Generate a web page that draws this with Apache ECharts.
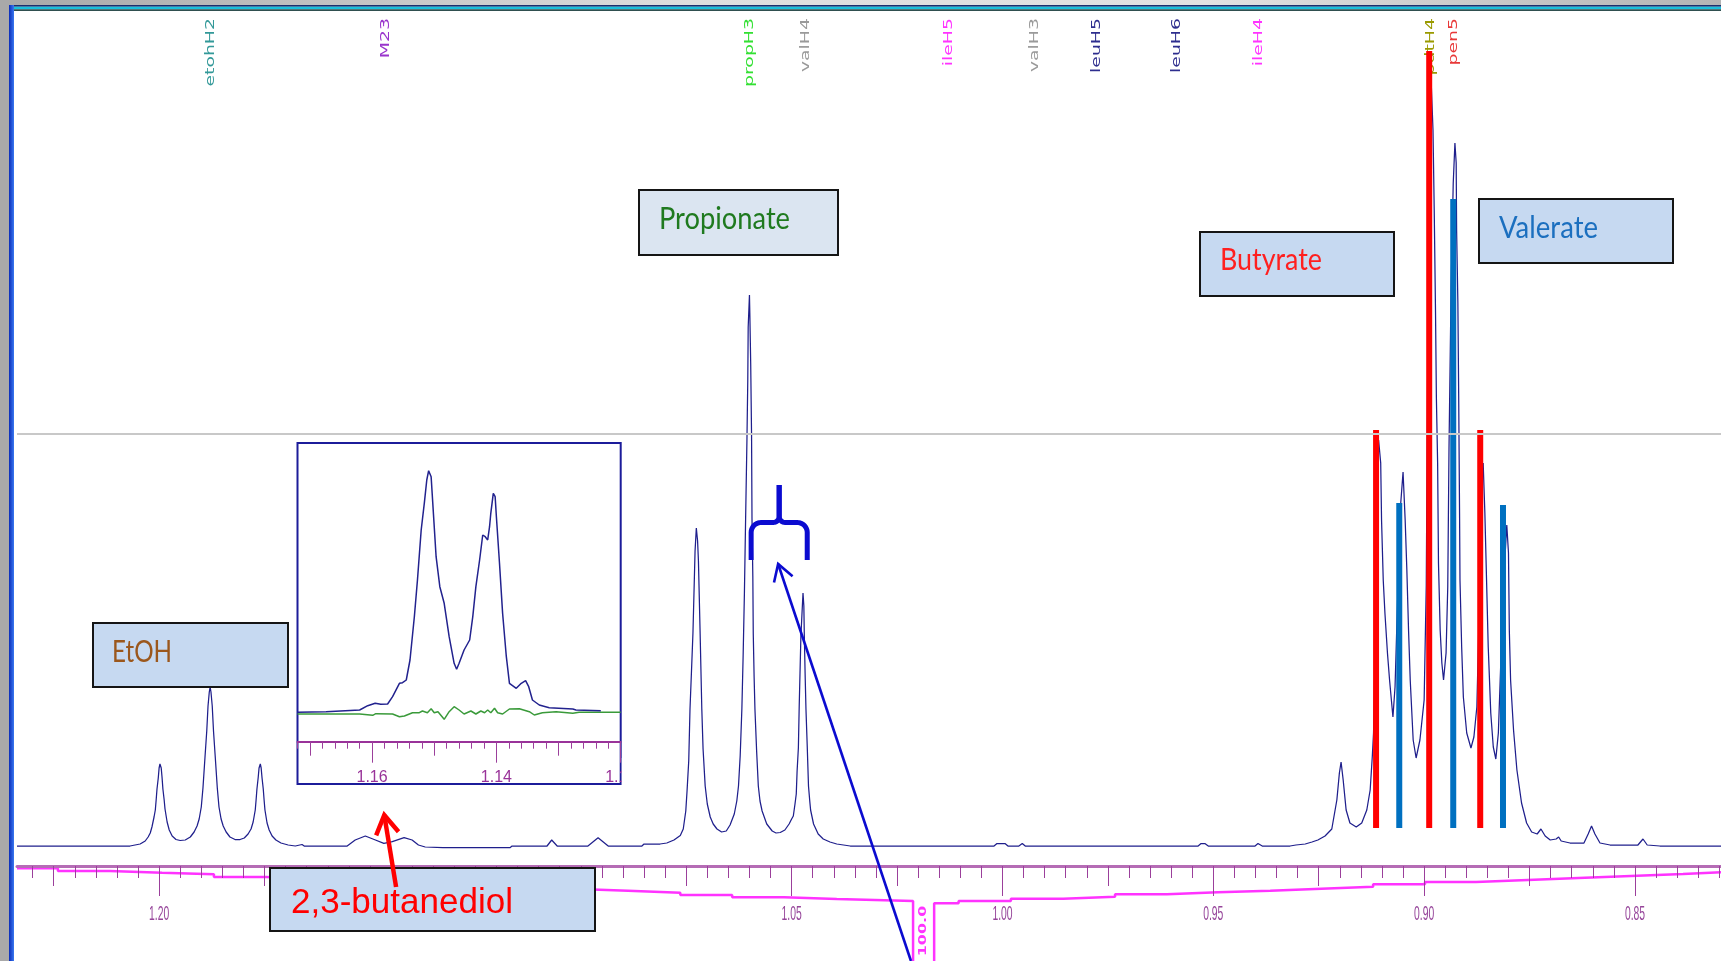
<!DOCTYPE html>
<html>
<head>
<meta charset="utf-8">
<title>1H NMR – short-chain fatty acids region</title>
<script src="https://cdn.jsdelivr.net/npm/echarts@6/dist/echarts.min.js"></script>
<style>
  html, body { margin: 0; padding: 0; background: #ffffff; }
  #chart { width: 1721px; height: 961px; }
</style>
</head>
<body>
<div id="chart"></div>
<script>
// ---------- data (ppm, intensity) ----------
const PPM_MIN = 0.8296;
const PPM_MAX = 1.2337;

// 1H spectrum trace, [chemical shift (ppm), intensity]
const SPECTRUM = [
  [1.2337,0],[1.2069,0],[1.2057,1],[1.2045,2],[1.2033,5],[1.2026,9],[1.2021,13],[1.2017,19],[1.2012,29],[1.2009,36],
  [1.2007,46],[1.2005,57],[1.2002,68],[1.2000,78],[1.1998,82],[1.1995,78],[1.1993,68.5],[1.1991,57],[1.1988,46],[1.1986,37],
  [1.1981,24],[1.1976,16],[1.1969,10],[1.1960,6.5],[1.1950,5.5],[1.1938,6],[1.1926,9],[1.1917,14],[1.1910,20],[1.1905,27],
  [1.1900,39],[1.1896,58],[1.1891,90],[1.1887,115],[1.1884,140],[1.1881,154],[1.1879,159],[1.1877,154],[1.1874,140],[1.1871,115],
  [1.1867,90],[1.1862,58],[1.1858,39],[1.1853,27],[1.1848,20],[1.1841,14],[1.1832,9],[1.1820,6.5],[1.1808,6.5],[1.1798,8],
  [1.1789,12],[1.1782,17],[1.1777,24],[1.1772,36],[1.1770,46],[1.1768,57],[1.1765,68.5],[1.1763,78],[1.1760,82],[1.1758,78],
  [1.1756,68.5],[1.1753,57],[1.1751,46],[1.1749,36],[1.1744,23],[1.1739,16],[1.1732,10],[1.1723,6],[1.1711,3],[1.1694,1],
  [1.1677,0],[1.1661,1.5],[1.1656,0],[1.1554,0],[1.1535,6],[1.1511,10],[1.1487,6],[1.1467,2.7],[1.1447,4.3],[1.1419,8.3],
  [1.1400,6],[1.1385,1],[1.1369,-1],[1.1327,-1.7],[1.1168,-1.7],[1.1163,0],[1.1080,0],[1.1069,6],[1.1056,0],[1.0983,0],
  [1.0959,8.3],[1.0935,0],[1.0855,0],[1.0850,2],[1.0812,2],[1.0796,3],[1.0779,6],[1.0764,10.5],[1.0757,17],[1.0751,35],
  [1.0748,55],[1.0744,85],[1.0741,137],[1.0737,180],[1.0734,213],[1.0731,262],[1.0729,295],[1.0726,318],[1.0723,305],[1.0721,285],
  [1.0717,213],[1.0713,137],[1.0710,97],[1.0705,60],[1.0700,42],[1.0693,29],[1.0686,22],[1.0677,17],[1.0666,14],[1.0655,15],
  [1.0646,21],[1.0636,32],[1.0630,45],[1.0626,60],[1.0622,90],[1.0618,137],[1.0615,190],[1.0612,252],[1.0609,330],[1.0606,405],
  [1.0604,465],[1.0603,519],[1.0600,551],[1.0599,530],[1.0597,481],[1.0595,410],[1.0594,328],[1.0592,270],[1.0591,213],[1.0589,170],
  [1.0587,137],[1.0583,95],[1.0579,60],[1.0575,45],[1.0570,35],[1.0559,22],[1.0546,15],[1.0537,13],[1.0527,13.5],[1.0516,16],
  [1.0506,22],[1.0500,27],[1.0496,30],[1.0492,42],[1.0489,52],[1.0487,75],[1.0484,98],[1.0482,140],[1.0480,175],[1.0478,210],
  [1.0475,236],[1.0473,253],[1.0471,240],[1.0470,213],[1.0468,172],[1.0466,137],[1.0463,100],[1.0460,60],[1.0457,45],[1.0455,36],
  [1.0448,22],[1.0437,12],[1.0425,7],[1.0409,4],[1.0393,2],[1.0369,0.5],[1.0361,0],[1.0131,0],[1.0129,1.5],[1.0124,0],
  [1.0020,0],[1.0013,2.5],[0.9994,2.5],[0.9987,0],[0.9961,0],[0.9953,2.5],[0.9946,0],[0.9880,0],[0.9878,1.5],[0.9873,0],
  [0.9652,0],[0.9650,1.5],[0.9645,0],[0.9536,0],[0.9529,2.5],[0.9520,2.5],[0.9512,0],[0.9401,0],[0.9394,2.5],[0.9384,0],
  [0.9318,0],[0.9304,1],[0.9282,2],[0.9266,4],[0.9252,6],[0.9235,10],[0.9219,17],[0.9207,46],[0.9201,73],[0.9197,84],
  [0.9192,66],[0.9185,36],[0.9176,23],[0.9161,19],[0.9148,23],[0.9136,36],[0.9128,56],[0.9123,89],[0.9120,113],[0.9116,200],
  [0.9113,330],[0.9108,406],[0.9103,383],[0.9101,326],[0.9097,266],[0.9093,233],[0.9087,193],[0.9082,166],[0.9074,129],[0.9069,159],
  [0.9062,260],[0.9056,340],[0.9050,374],[0.9045,326],[0.9041,276],[0.9037,216],[0.9033,166],[0.9026,106],[0.9019,88],[0.9010,106],
  [0.9000,146],[0.8995,260],[0.8991,520],[0.8987,740],[0.8984,772],[0.8979,716],[0.8976,633],[0.8973,533],[0.8971,449],[0.8968,383],
  [0.8966,283],[0.8962,216],[0.8958,183],[0.8954,166],[0.8948,193],[0.8944,259],[0.8941,399],[0.8936,560],[0.8931,663],[0.8927,703],
  [0.8924,683],[0.8923,616],[0.8920,543],[0.8918,446],[0.8916,333],[0.8915,266],[0.8911,199],[0.8907,149],[0.8899,113],[0.8889,98],
  [0.8882,109],[0.8875,139],[0.8870,226],[0.8865,346],[0.8860,383],[0.8856,333],[0.8852,266],[0.8848,199],[0.8842,133],[0.8836,99],
  [0.8830,87],[0.8824,113],[0.8818,186],[0.8810,276],[0.8804,321],[0.8800,293],[0.8798,216],[0.8795,166],[0.8788,116],[0.8780,76],
  [0.8769,43],[0.8757,23],[0.8745,14],[0.8732,12],[0.8723,17],[0.8713,10],[0.8701,6],[0.8687,7],[0.8681,9],[0.8675,5],
  [0.8654,3],[0.8621,3],[0.8611,12],[0.8603,20],[0.8595,12],[0.8583,3],[0.8559,1],[0.8493,1],[0.8481,7],[0.8471,1],
  [0.8441,0],[0.8296,0]
];

// Expanded 2,3-butanediol doublet and fit residual
const INSET_PPM_MIN = 1.1200;
const INSET_PPM_MAX = 1.1720;
const INSET_SPECTRUM = [
  [1.1720,0],[1.1674,0.6],[1.1620,2.3],[1.1607,6.6],[1.1595,9],[1.1586,8],[1.1575,8.3],[1.1567,15.6],[1.1556,29],[1.1551,29.6],
  [1.1545,32.3],[1.1539,52.3],[1.1532,95.6],[1.1527,132.3],[1.1521,182.3],[1.1516,209],[1.1512,232.3],[1.1509,241.6],[1.1505,235.6],[1.1501,195.6],
  [1.1497,155.6],[1.1491,125.6],[1.1484,109],[1.1476,75.6],[1.1468,49],[1.1464,43],[1.1460,49],[1.1452,62.3],[1.1443,72.3],[1.1438,95.6],
  [1.1433,125.6],[1.1427,152.3],[1.1422,177.3],[1.1418,175.6],[1.1414,172.3],[1.1411,185.6],[1.1409,199],[1.1405,219],[1.1402,215.6],[1.1400,195.6],
  [1.1395,149],[1.1390,99],[1.1384,55.6],[1.1379,29],[1.1368,24],[1.1360,29],[1.1353,31.6],[1.1348,25.6],[1.1342,12.3],[1.1331,7.3],
  [1.1315,4.6],[1.1277,3.3],[1.1272,2.3],[1.1232,1.6]
];
const INSET_RESIDUAL = [
  [1.1720,-1.7],[1.1620,-1.7],[1.1618,-3],[1.1599,-3],[1.1594,-1.4],[1.1567,-1.7],[1.1556,-4.4],[1.1548,-3.7],[1.1535,-0.4],[1.1524,-0.4],
  [1.1519,1.3],[1.1511,-0.4],[1.1505,3.6],[1.1500,-0.4],[1.1494,0.6],[1.1484,-7],[1.1476,0.6],[1.1468,5.6],[1.1460,2.3],[1.1452,-1.7],
  [1.1441,1.3],[1.1433,-1.7],[1.1425,1.3],[1.1419,-0.4],[1.1414,2.3],[1.1409,-0.4],[1.1403,4],[1.1398,-0.4],[1.1390,-1.7],[1.1379,3.3],
  [1.1363,3.6],[1.1347,0.6],[1.1339,-2.7],[1.1326,-0.4],[1.1304,0.6],[1.1277,-1],[1.1267,0],[1.1200,0]
];

// Integral trace, [ppm, height]
const INTEGRAL = [
  [1.2337,92.7],[1.2240,90],[1.2117,88.3],[1.1993,86.7],[1.1870,84],[1.1746,82],[1.1623,80],[1.1500,78],[1.1376,76],[1.1253,74],
  [1.1130,72],[1.1006,70.3],[1.0888,68.3],[1.0764,66],[1.0641,63.7],[1.0518,62],[1.0393,60],[1.0212,-5],[1.0162,57.7],[1.0104,60],
  [0.9980,62.3],[0.9856,64.3],[0.9733,66.7],[0.9610,68.7],[0.9489,70.3],[0.9365,72.3],[0.9244,74.3],[0.9121,76.7],[0.8998,79],[0.8877,81],
  [0.8754,83],[0.8634,85],[0.8510,87],[0.8386,88.7],[0.8296,88.7]
];
const INTEGRAL_LABEL = '100.0';
const INTEGRAL_LABEL_AT = [1.0188, 30];

// Reference multiplet sticks
const STICK_BASE = 18;
const BUTYRATE_PPM = [0.9114, 0.8988, 0.8867];
const BUTYRATE_HEIGHT = [416, 795, 416];
const VALERATE_PPM = [0.9059, 0.8931, 0.8813];
const VALERATE_HEIGHT = [343, 647, 341];

const THRESHOLD = 412;

// Assignment labels along the top
const PEAK_NAMES = ['etohH2', 'M23', 'propH3', 'valH4', 'ileH5', 'valH3', 'leuH5', 'leuH6', 'ileH4', 'pdtH4', 'pen5'];
const PEAK_PPM   = [1.1877, 1.1463, 1.0599, 1.0466, 1.0127, 0.9922, 0.9776, 0.9587, 0.9391, 0.8985, 0.8930];

// Axis tick labels
const MAIN_TICK_LABELS = [1.20, 1.15, 1.10, 1.05, 1.00, 0.95, 0.90, 0.85];
const INSET_TICK_LABELS = [1.16, 1.14, 1.12];

// Annotation anchors in data coordinates
const BRACE = { from: 1.0596, to: 1.0463, foot: 286, arm: 323.5, tip: 361 };
const BLUE_ARROW = { tip: [1.0532, 282], tail: [1.0217, -115] };
const RED_ARROW = { tip: [1.1466, 31], tail: [1.1438, -41] };

// ---------- styles ----------
const PEAK_COLORS = ['#339999', '#9933cc', '#33e033', '#9a9a9a', '#ff33ff', '#9a9a9a', '#2e2e8e', '#2e2e8e', '#ff33ff', '#9a9a00', '#e83838'];
const SPEC_COLOR = '#1f1f8c';
const AXIS_PURPLE = '#9b3f9b';

// ---------- chart ----------
const chart = echarts.init(document.getElementById('chart'), null, { renderer: 'canvas' });

function ticks(lo, hi, step) {
  const out = [];
  const a = Math.ceil(lo / step - 1e-6), b = Math.floor(hi / step + 1e-6);
  for (let n = a; n <= b; n++) out.push(Number((n * step).toFixed(4)));
  return out;
}

function tickAxis(gridIndex, min, max, values, length, line) {
  return {
    type: 'value', gridIndex, min, max, inverse: true, position: 'bottom', z: 3,
    axisLine: line ? { show: true, onZero: false, lineStyle: line } : { show: false, onZero: false },
    axisTick: { show: true, customValues: values, length, lineStyle: { color: AXIS_PURPLE, width: 1 } },
    axisLabel: { show: false },
    splitLine: { show: false }
  };
}

function stickSeries(name, ppms, heights, color) {
  return {
    type: 'custom', name, xAxisIndex: 0, yAxisIndex: 0, z: 4, silent: true,
    data: ppms.map((p, i) => [p, STICK_BASE, heights[i]]),
    encode: { x: 0, y: [1, 2] },
    renderItem(params, api) {
      const a = api.coord([api.value(0), api.value(1)]);
      const b = api.coord([api.value(0), api.value(2)]);
      return { type: 'rect', shape: { x: a[0] - 3, y: b[1], width: 6, height: a[1] - b[1] }, style: { fill: color } };
    }
  };
}

const option = {
  animation: false,
  backgroundColor: '#ffffff',
  grid: [
    { left: 17, right: 0, top: 0, height: 866, outerBoundsMode: 'none' },
    { left: 297.5, top: 443, width: 323.2, height: 298.7, outerBoundsMode: 'none' },
    { left: 17, right: 0, top: 866, height: 95, outerBoundsMode: 'none' }
  ],
  xAxis: [
    tickAxis(0, PPM_MIN, PPM_MAX, ticks(PPM_MIN, PPM_MAX, 0.005), 12, { color: '#b56cb5', width: 3 }),
    tickAxis(0, PPM_MIN, PPM_MAX, ticks(PPM_MIN, PPM_MAX, 0.025), 20, null),
    tickAxis(0, PPM_MIN, PPM_MAX, ticks(PPM_MIN, PPM_MAX, 0.05), 30, null),
    tickAxis(1, INSET_PPM_MIN, INSET_PPM_MAX, ticks(INSET_PPM_MIN, INSET_PPM_MAX, 0.002), 7, { color: '#993399', width: 2 }),
    tickAxis(1, INSET_PPM_MIN, INSET_PPM_MAX, ticks(INSET_PPM_MIN, INSET_PPM_MAX, 0.01), 14, null),
    tickAxis(1, INSET_PPM_MIN, INSET_PPM_MAX, ticks(INSET_PPM_MIN, INSET_PPM_MAX, 0.02), 21, null),
    { type: 'value', gridIndex: 2, min: PPM_MIN, max: PPM_MAX, inverse: true, show: false }
  ],
  yAxis: [
    { type: 'value', gridIndex: 0, min: -20, max: 846, show: false },
    { type: 'value', gridIndex: 1, min: -29.4, max: 269.3, show: false },
    { type: 'value', gridIndex: 2, min: 0, max: 95, show: false }
  ],
  series: [
    {
      type: 'line', name: 'spectrum', xAxisIndex: 0, yAxisIndex: 0, data: SPECTRUM,
      symbol: 'none', showSymbol: false, silent: true, z: 2,
      lineStyle: { color: SPEC_COLOR, width: 1.25 },
      markLine: {
        silent: true, symbol: 'none', label: { show: false },
        lineStyle: { color: '#c8c8c8', width: 2, type: 'solid' },
        data: [{ yAxis: THRESHOLD }]
      }
    },
    stickSeries('butyrate', BUTYRATE_PPM, BUTYRATE_HEIGHT, '#ff0000'),
    stickSeries('valerate', VALERATE_PPM, VALERATE_HEIGHT, '#0070c0'),
    {
      type: 'line', name: 'residual', xAxisIndex: 3, yAxisIndex: 1, data: INSET_RESIDUAL,
      symbol: 'none', showSymbol: false, silent: true, z: 2,
      lineStyle: { color: '#3a9a3a', width: 1.5 }
    },
    {
      type: 'line', name: 'butanediol', xAxisIndex: 3, yAxisIndex: 1, data: INSET_SPECTRUM,
      symbol: 'none', showSymbol: false, silent: true, z: 3,
      lineStyle: { color: '#22228e', width: 1.5 }
    },
    {
      type: 'line', name: 'integral', xAxisIndex: 6, yAxisIndex: 2, data: INTEGRAL, step: 'end',
      symbol: 'none', showSymbol: false, silent: true, z: 2,
      lineStyle: { color: '#ff33ff', width: 2.5 }
    }
  ]
};
chart.setOption(option);

// ---------- annotations ----------
const toMain = (p, v) => chart.convertToPixel({ xAxisIndex: 0, yAxisIndex: 0 }, [p, v]);
const toInset = (p, v) => chart.convertToPixel({ xAxisIndex: 3, yAxisIndex: 1 }, [p, v]);
const toIntegral = (p, v) => chart.convertToPixel({ xAxisIndex: 6, yAxisIndex: 2 }, [p, v]);

const measure = document.createElement('canvas').getContext('2d');
function widthOf(text, font) { measure.font = font; return measure.measureText(text).width; }

function textEl(text, font, color, x, y, opts) {
  const o = opts || {};
  return {
    type: 'text', z: o.z == null ? 5 : o.z, x, y,
    rotation: o.rotation || 0, scaleX: o.scaleX || 1, scaleY: o.scaleY || 1,
    silent: true,
    style: {
      text, font, fill: color,
      textAlign: o.align || 'left', align: o.align || 'left',
      textVerticalAlign: 'middle', verticalAlign: 'middle'
    }
  };
}

const g = [];

// window frame
g.push({ type: 'rect', z: 200, silent: true, shape: { x: 0, y: 0, width: 1721, height: 5 },
  style: { fill: { type: 'linear', x: 0, y: 0, x2: 1, y2: 0, colorStops: [
    { offset: 0, color: '#a8a8a8' }, { offset: 0.4, color: '#dedede' }, { offset: 0.7, color: '#e2e2e2' }, { offset: 1, color: '#b4b4b4' }] } } });
g.push({ type: 'rect', z: 200, silent: true, shape: { x: 0, y: 5, width: 1721, height: 1.7 }, style: { fill: '#1b2f6e' } });
g.push({ type: 'rect', z: 200, silent: true, shape: { x: 0, y: 6.7, width: 1721, height: 2.6 }, style: { fill: '#19c0dc' } });
g.push({ type: 'rect', z: 200, silent: true, shape: { x: 0, y: 9.3, width: 1721, height: 1.7 }, style: { fill: '#2f4f4f' } });
g.push({ type: 'rect', z: 201, silent: true, shape: { x: 0, y: 0, width: 9, height: 961 }, style: { fill: '#a9a9a9' } });
g.push({ type: 'rect', z: 201, silent: true, shape: { x: 9, y: 5, width: 5, height: 956 },
  style: { fill: { type: 'linear', x: 0, y: 0, x2: 1, y2: 0, colorStops: [{ offset: 0, color: '#0a2cb8' }, { offset: 1, color: '#3a78f0' }] } } });

// inset frame
g.push({ type: 'rect', z: 0, silent: true, shape: { x: 297.5, y: 443, width: 323.2, height: 341 },
  style: { fill: '#ffffff', stroke: '#1c1c9a', lineWidth: 2 } });

// assignment labels (vertical)
PEAK_NAMES.forEach((name, i) => {
  const x = toMain(PEAK_PPM[i], 0)[0];
  g.push(textEl(name, '12px "DejaVu Sans"', PEAK_COLORS[i], x, 18,
    { z: 1, rotation: Math.PI / 2, scaleX: 1.57, align: 'right' }));
});

// main axis tick labels
MAIN_TICK_LABELS.forEach(v => {
  const x = toMain(v, 0)[0];
  g.push(textEl(v.toFixed(2), '14px "Liberation Sans"', '#96459a', x, 914.5,
    { z: 5, scaleX: 0.74, scaleY: 1.5, align: 'center' }));
});

// inset tick labels
INSET_TICK_LABELS.forEach(v => {
  const x = toInset(v, 0)[0];
  g.push(textEl(v.toFixed(2), '16px "Liberation Sans"', '#993399', x, 777.7, { z: 5, align: 'center' }));
});
g.push({ type: 'rect', z: 60, silent: true, shape: { x: 621.8, y: 758, width: 30, height: 34 }, style: { fill: '#ffffff' } });

// integral value
{
  const p = toIntegral(INTEGRAL_LABEL_AT[0], INTEGRAL_LABEL_AT[1]);
  g.push(textEl(INTEGRAL_LABEL, 'bold 11px "DejaVu Sans"', '#ff33ff', p[0], p[1],
    { z: 5, rotation: Math.PI / 2, scaleX: 1.45, align: 'center' }));
}

// compound boxes
const BOX_LAYOUT = [
  { text: 'EtOH',           rect: [93, 623, 195, 64],  fill: '#c6d9f1', tx: 112,  ty: 652,   tw: 60,  font: '30px Lato', color: '#9b571c' },
  { text: 'Propionate',     rect: [639, 190, 199, 65], fill: '#dbe5f1', tx: 659,  ty: 219,   tw: 131, font: '30px Lato', color: '#1f7a1f' },
  { text: 'Butyrate',       rect: [1200, 232, 194, 64], fill: '#c6d9f1', tx: 1220, ty: 260.5, tw: 102, font: '30px Lato', color: '#ff1f1f' },
  { text: 'Valerate',       rect: [1479, 199, 194, 64], fill: '#c6d9f1', tx: 1499, ty: 228,   tw: 99,  font: '30px Lato', color: '#1b6fbf' },
  { text: '2,3-butanediol', rect: [270, 868, 325, 63], fill: '#c6d9f1', tx: 291,  ty: 903.5, tw: 222, font: '35px "Liberation Sans"', color: '#ff0000' }
];
BOX_LAYOUT.forEach(b => {
  g.push({ type: 'rect', z: 100, silent: true,
    shape: { x: b.rect[0], y: b.rect[1], width: b.rect[2], height: b.rect[3] },
    style: { fill: b.fill, stroke: '#151515', lineWidth: 2 } });
  g.push(textEl(b.text, b.font, b.color, b.tx, b.ty, { z: 101, scaleX: b.tw / widthOf(b.text, b.font) }));
});

// brace over the propionate triplet
function arcPts(cx, cy, r, a0, a1, n) {
  const pts = [];
  for (let i = 0; i <= n; i++) { const a = a0 + (a1 - a0) * i / n; pts.push([cx + r * Math.cos(a), cy + r * Math.sin(a)]); }
  return pts;
}
{
  const L = toMain(BRACE.from, BRACE.foot), R = toMain(BRACE.to, BRACE.foot);
  const yArm = toMain(BRACE.from, BRACE.arm)[1], yTip = toMain(BRACE.from, BRACE.tip)[1];
  const cx = (L[0] + R[0]) / 2, r1 = 10, r2 = 6;
  const leftHalf = [[L[0], L[1]]].concat(arcPts(L[0] + r1, yArm + r1, r1, Math.PI, 1.5 * Math.PI, 10),
    arcPts(cx - r2, yArm - r2, r2, 0.5 * Math.PI, 0, 8), [[cx, yTip]]);
  const rightHalf = [[R[0], R[1]]].concat(arcPts(R[0] - r1, yArm + r1, r1, 0, -0.5 * Math.PI, 10),
    arcPts(cx + r2, yArm - r2, r2, 0.5 * Math.PI, Math.PI, 8), [[cx, yTip]]);
  [leftHalf, rightHalf].forEach(pts => g.push({ type: 'polyline', z: 120, silent: true, shape: { points: pts },
    style: { stroke: '#0b0bd0', lineWidth: 5, fill: 'none', lineJoin: 'round', lineCap: 'butt' } }));
}

// arrows
function arrow(spec, color, width, headLen) {
  const tip = toMain(spec.tip[0], spec.tip[1]), tail = toMain(spec.tail[0], spec.tail[1]);
  const ang = Math.atan2(tail[1] - tip[1], tail[0] - tip[0]);
  const spread = 31 * Math.PI / 180;
  const w1 = [tip[0] + headLen * Math.cos(ang + spread), tip[1] + headLen * Math.sin(ang + spread)];
  const w2 = [tip[0] + headLen * Math.cos(ang - spread), tip[1] + headLen * Math.sin(ang - spread)];
  return [
    { type: 'polyline', z: 130, silent: true, shape: { points: [tail, tip] }, style: { stroke: color, lineWidth: width, fill: 'none' } },
    { type: 'polyline', z: 130, silent: true, shape: { points: [w1, tip, w2] }, style: { stroke: color, lineWidth: width, fill: 'none', lineJoin: 'miter' } }
  ];
}
g.push(...arrow(BLUE_ARROW, '#0b0bd0', 2.6, 19));
g.push(...arrow(RED_ARROW, '#ff0000', 4.5, 22));

chart.setOption({ graphic: { elements: g } });
</script>
</body>
</html>
